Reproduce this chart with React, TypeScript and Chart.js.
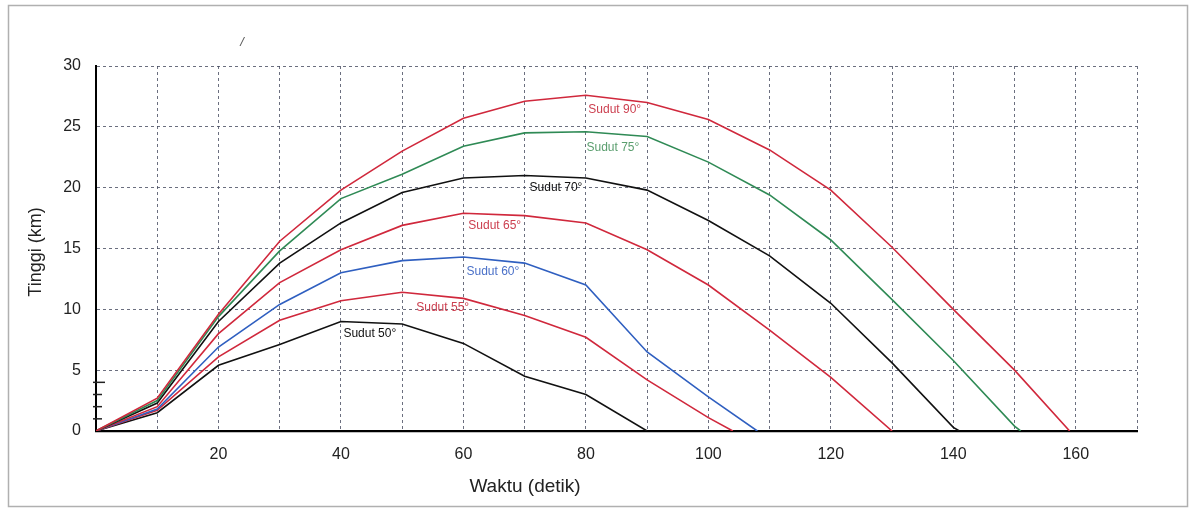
import React, { useEffect, useRef } from "react";
import { Chart, registerables } from "chart.js";

Chart.register(...registerables);

// Time samples (detik)
const waktu = [0, 10, 20, 30, 40, 50, 60, 70, 80, 90, 100, 110, 120, 130, 140, 150];

// Heights (km) per launch angle, sampled at `waktu` until just before landing
const tinggi90 = [0, 2.7, 9.6, 15.6, 19.8, 23.0, 25.7, 27.1, 27.6, 27.0, 25.6, 23.1, 19.8, 15.1, 10.0, 5.0];
const tinggi75 = [0, 2.5, 9.4, 14.8, 19.1, 21.1, 23.4, 24.5, 24.6, 24.2, 22.1, 19.4, 15.7, 10.8, 5.8, 0.4];
const tinggi70 = [0, 2.3, 9.0, 13.8, 17.1, 19.6, 20.8, 21.0, 20.8, 19.8, 17.3, 14.4, 10.5, 5.6, 0.3];
const tinggi65 = [0, 2.0, 8.0, 12.2, 14.9, 16.9, 17.9, 17.7, 17.1, 14.9, 12.0, 8.3, 4.4];
const tinggi60 = [0, 1.8, 6.9, 10.4, 13.0, 14.0, 14.3, 13.8, 12.0, 6.5, 2.8];
const tinggi55 = [0, 1.7, 6.1, 9.1, 10.7, 11.4, 10.9, 9.5, 7.7, 4.2, 1.1];
const tinggi50 = [0, 1.5, 5.4, 7.1, 9.0, 8.8, 7.2, 4.5, 3.0];

// Landing times (detik)
const mendarat = [159, 151, 141, 130, 108, 104, 90];

const namaSudut = ["Sudut 90°", "Sudut 75°", "Sudut 70°", "Sudut 65°", "Sudut 60°", "Sudut 55°", "Sudut 50°"];
const warnaGaris = ["#d0283c", "#2f8a55", "#111111", "#d0283c", "#2f5fc0", "#d0283c", "#111111"];
const warnaLabel = ["#cc4050", "#5a9e6e", "#111111", "#cc4050", "#4a70c8", "#cc4050", "#111111"];

// Inline label anchor positions (data units)
const labelX = [80.4, 80.1, 70.8, 60.8, 60.5, 52.3, 40.4];
const labelY = [26.4, 23.3, 20.0, 16.9, 13.1, 10.1, 8.0];

// Axis ticks
const xTicks = [20, 40, 60, 80, 100, 120, 140, 160];
const yTicks = [0, 5, 10, 15, 20, 25, 30];

const semuaTinggi = [tinggi90, tinggi75, tinggi70, tinggi65, tinggi60, tinggi55, tinggi50];

const FONT = "'Liberation Sans', Arial, sans-serif";

export default function App() {
  const ref = useRef<HTMLCanvasElement | null>(null);

  useEffect(() => {
    if (!ref.current) return;

    const datasets = semuaTinggi.map((h, i) => {
      const pts = h.map((v, k) => ({ x: waktu[k], y: v }));
      pts.push({ x: mendarat[i], y: 0 });
      return {
        label: namaSudut[i],
        data: pts,
        borderColor: warnaGaris[i],
        borderWidth: 1.6,
        pointRadius: 0,
        tension: 0,
        fill: false,
      };
    });

    const decor = {
      id: "decor",
      beforeDraw(chart: any) {
        const c = chart.ctx;
        c.save();
        c.fillStyle = "#ffffff";
        c.fillRect(0, 0, chart.width, chart.height);
        // outer frame
        c.strokeStyle = "#b0b0b0";
        c.lineWidth = 1.5;
        c.strokeRect(8.5, 5.5, 1179, 501);
        c.restore();
      },
      afterDatasetsDraw(chart: any) {
        const c = chart.ctx;
        const xs = chart.scales.x;
        const ys = chart.scales.y;
        c.save();
        // small stray ticks on the y-axis
        c.strokeStyle = "#222";
        c.lineWidth = 1.5;
        [1, 2, 3, 4].forEach((v) => {
          const py = ys.getPixelForValue(v);
          const x0 = xs.getPixelForValue(0);
          c.beginPath();
          c.moveTo(x0 - 3, py);
          c.lineTo(x0 + (v === 4 ? 9 : 6), py);
          c.stroke();
        });
        // curve labels
        c.font = `12px ${FONT}`;
        c.textAlign = "left";
        c.textBaseline = "middle";
        namaSudut.forEach((n, i) => {
          c.fillStyle = warnaLabel[i];
          c.fillText(n, xs.getPixelForValue(labelX[i]), ys.getPixelForValue(labelY[i]));
        });
        // axis titles
        c.fillStyle = "#222";
        c.textAlign = "center";
        c.font = `19px ${FONT}`;
        c.fillText("Waktu (detik)", 525, 487);
        c.save();
        c.translate(36, 252);
        c.rotate(-Math.PI / 2);
        c.font = `18px ${FONT}`;
        c.fillText("Tinggi (km)", 0, 0);
        c.restore();
        // stray mark
        c.fillStyle = "#555";
        c.font = `italic 13px ${FONT}`;
        c.fillText("/", 242, 42);
        c.restore();
      },
    };

    const gridColor = "rgba(70,75,95,0.8)";

    const chart = new Chart(ref.current, {
      type: "line",
      data: { datasets },
      options: {
        animation: false,
        responsive: true,
        maintainAspectRatio: false,
        layout: { padding: { left: 0, top: 66, right: 57, bottom: 0 } },
        plugins: { legend: { display: false }, tooltip: { enabled: false } },
        scales: {
          x: {
            type: "linear",
            min: 0,
            max: 170,
            afterFit: (s: any) => {
              s.height = 78;
            },
            afterBuildTicks: (s: any) => {
              const arr = [];
              for (let v = 0; v <= 170; v += 10) arr.push({ value: v });
              s.ticks = arr;
            },
            ticks: {
              autoSkip: false,
              maxRotation: 0,
              padding: 14,
              color: "#222",
              font: { family: FONT, size: 16 },
              callback: (v: any) => (xTicks.includes(Number(v)) ? String(v) : ""),
            },
            grid: {
              color: (ctx: any) => (ctx.tick && ctx.tick.value === 0 ? "rgba(0,0,0,0)" : gridColor),
              lineWidth: 1,
              drawTicks: false,
            },
            border: { display: true, color: "#000", width: 2.2, dash: [3, 3] },
          },
          y: {
            type: "linear",
            min: 0,
            max: 30,
            afterFit: (s: any) => {
              s.width = 96;
            },
            afterBuildTicks: (s: any) => {
              s.ticks = yTicks.map((v) => ({ value: v }));
            },
            ticks: {
              padding: 15,
              color: "#222",
              font: { family: FONT, size: 16 },
            },
            grid: {
              color: (ctx: any) => (ctx.tick && ctx.tick.value === 0 ? "rgba(0,0,0,0)" : gridColor),
              lineWidth: 1,
              drawTicks: false,
            },
            border: { display: true, color: "#000", width: 2, dash: [3, 3] },
          },
        },
      },
      plugins: [decor],
    } as any);

    return () => chart.destroy();
  }, []);

  return (
    <div style={{ position: "absolute", left: 0, top: 0, width: 1194, height: 509 }}>
      <canvas ref={ref} />
    </div>
  );
}
